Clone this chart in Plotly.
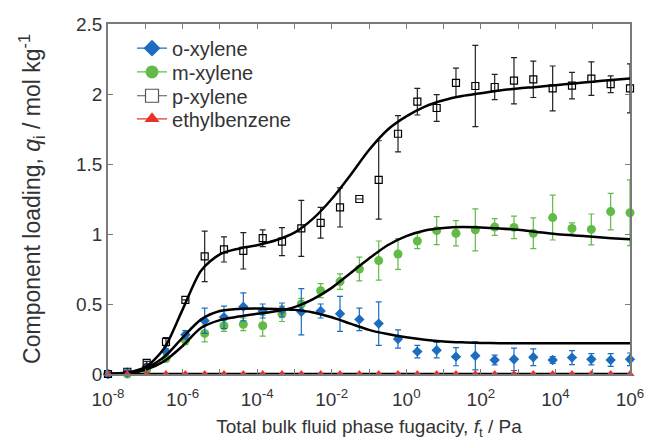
import plotly.graph_objects as go

# Total bulk fluid phase fugacity of each simulated point (Pa)
fugacity = [1.0e-8, 3.30e-8, 1.09e-7, 3.59e-7, 1.19e-6, 3.92e-6, 1.29e-5, 4.26e-5,
            1.41e-4, 4.64e-4, 1.53e-3, 5.05e-3, 1.67e-2, 5.51e-2, 0.182, 0.600,
            1.98, 6.53, 21.5, 71.1, 235, 774, 2550, 8430, 2.78e4, 9.18e4, 3.03e5, 1.0e6]

# Component loadings (mol/kg) with their error bar half-widths
o_xylene = [0.0, 0.01, 0.05, 0.16, 0.28, 0.38, 0.405, 0.48, 0.45, 0.457, 0.445, 0.45, 0.43, 0.39,
            0.36, 0.25, 0.16, 0.17, 0.124, 0.13, 0.10, 0.105, 0.12, 0.10, 0.117, 0.105, 0.10, 0.105]
o_xylene_err = [0, 0, 0.01, 0.02, 0.03, 0.09, 0.08, 0.10, 0.05, 0.05, 0.165, 0.05, 0.125, 0.08,
                0.155, 0.065, 0.045, 0.055, 0.065, 0.10, 0.035, 0.08, 0.06, 0.025, 0.05, 0.04, 0.045, 0.045]

m_xylene = [0.0, 0.0, 0.03, 0.11, 0.24, 0.29, 0.345, 0.355, 0.345, 0.43, 0.50, 0.595, 0.66, 0.75,
            0.81, 0.857, 0.95, 1.024, 1.005, 1.03, 1.05, 1.047, 1.005, 1.117, 1.04, 1.033, 1.16, 1.152]
m_xylene_err = [0, 0, 0.01, 0.02, 0.03, 0.06, 0.04, 0.045, 0.075, 0.055, 0.04, 0.05, 0.055, 0.085,
                0.14, 0.11, 0.055, 0.10, 0.09, 0.15, 0.06, 0.08, 0.11, 0.16, 0.04, 0.11, 0.13, 0.235]

p_xylene = [0.0, 0.016, 0.08, 0.23, 0.53, 0.84, 0.89, 0.88, 0.97, 0.945, 1.04, 1.08, 1.19, 1.25,
            1.386, 1.716, 1.945, 1.90, 2.08, 2.057, 2.05, 2.095, 2.105, 2.04, 2.06, 2.11, 2.07, 2.04]
p_xylene_err = [0, 0, 0.01, 0.03, 0.0, 0.18, 0.09, 0.13, 0.06, 0.10, 0.20, 0.11, 0.14, 0.0,
                0.28, 0.13, 0.095, 0.095, 0.105, 0.29, 0.09, 0.165, 0.13, 0.16, 0.095, 0.12, 0.06, 0.175]

ethylbenzene = [0.0] * 28
ethylbenzene_err = [0.0] * 28

# Fitted isotherm curves, sampled every half decade from 1e-8 to 1e6 Pa
fit_fugacity = [1e-8, 3.16e-8, 1e-7, 3.16e-7, 1e-6, 3.16e-6, 1e-5, 3.16e-5, 1e-4, 3.16e-4,
                1e-3, 3.16e-3, 1e-2, 3.16e-2, 0.1, 0.316, 1.0, 3.16, 10, 31.6, 100, 316,
                1e3, 3.16e3, 1e4, 3.16e4, 1e5, 3.16e5, 1e6]
o_fit = [0.0, 0.005, 0.04, 0.12, 0.26, 0.39, 0.45, 0.465, 0.467, 0.465, 0.458, 0.44, 0.405, 0.36,
         0.315, 0.285, 0.262, 0.245, 0.233, 0.226, 0.222, 0.22, 0.22, 0.22, 0.22, 0.22, 0.22, 0.22, 0.22]
m_fit = [0.0, 0.004, 0.03, 0.09, 0.20, 0.33, 0.385, 0.41, 0.43, 0.448, 0.478, 0.535, 0.615, 0.72,
         0.825, 0.92, 0.985, 1.025, 1.043, 1.05, 1.047, 1.04, 1.03, 1.015, 1.0, 0.99, 0.98, 0.97, 0.962]
p_fit = [0.0, 0.01, 0.05, 0.18, 0.46, 0.74, 0.855, 0.895, 0.92, 0.955, 1.01, 1.11, 1.25, 1.42,
         1.60, 1.745, 1.84, 1.91, 1.955, 1.985, 2.005, 2.025, 2.04, 2.05, 2.063, 2.075, 2.088, 2.10, 2.11]
e_fit = [0.0] * 29

# Axis ticks: labelled even decades, unlabelled odd decades
x_tick_vals = [1e-8, 1e-6, 1e-4, 1e-2, 1e0, 1e2, 1e4, 1e6]
x_tick_text = ["10<sup>-8</sup>", "10<sup>-6</sup>", "10<sup>-4</sup>", "10<sup>-2</sup>",
               "10<sup>0</sup>", "10<sup>2</sup>", "10<sup>4</sup>", "10<sup>6</sup>"]
x_minor_vals = [1e-7, 1e-5, 1e-3, 1e-1, 1e1, 1e3, 1e5]
y_tick_vals = [0, 0.5, 1, 1.5, 2, 2.5]
y_tick_text = ["0", "0.5", "1", "1.5", "2", "2.5"]

BLUE = "#1c6dbf"
GREEN = "#62bb46"
RED = "#e63329"
BLACK = "#000000"
AXIS = "#7a7a7a"
TEXT = "#333333"
FONT = "Liberation Sans, Arial, sans-serif"

fig = go.Figure()


def points(y, err, color, bar_color, symbol, size, fill, line_w):
    fig.add_trace(go.Scatter(
        x=fugacity, y=y, mode="markers", showlegend=False, cliponaxis=False,
        marker=dict(symbol=symbol, size=size, color=fill,
                    line=dict(color=color, width=line_w)),
        error_y=dict(type="data", array=err, visible=True, color=bar_color,
                     thickness=1.2, width=3),
    ))


points(m_xylene, m_xylene_err, GREEN, GREEN, "circle", 9, GREEN, 0)
points(o_xylene, o_xylene_err, BLUE, BLUE, "diamond", 8, BLUE, 0)
points(p_xylene, p_xylene_err, BLACK, "#222222", "square-open", 7, BLACK, 1.2)

for fit in (o_fit, m_fit, p_fit, e_fit):
    fig.add_trace(go.Scatter(
        x=fit_fugacity, y=fit, mode="lines", showlegend=False, cliponaxis=False,
        line=dict(color=BLACK, width=2.5, shape="spline", smoothing=0.8),
    ))

points(ethylbenzene, ethylbenzene_err, RED, RED, "triangle-up", 8, RED, 0)

# Legend entries, one small legend per row so the row spacing can be set
legend_items = [
    ("o-xylene", BLUE, "diamond", BLUE, 0),
    ("m-xylene", GREEN, "circle", GREEN, 0),
    ("p-xylene", "#555555", "square", "white", 1.2),
    ("ethylbenzene", RED, "triangle-up", RED, 0),
]
legend_rows = [0.931, 0.863, 0.795, 0.729]
legend_layout = {}
for i, ((name, color, symbol, fill, lw), row) in enumerate(zip(legend_items, legend_rows)):
    key = "legend" if i == 0 else f"legend{i + 1}"
    fig.add_trace(go.Scatter(
        x=[None], y=[None], mode="lines+markers", name=name, legend=key,
        line=dict(color=color, width=1.2),
        marker=dict(symbol=symbol, size=13, color=fill, line=dict(color=color, width=lw)),
    ))
    legend_layout[key] = dict(
        x=0.046, y=row, xanchor="left", yanchor="middle",
        bgcolor="rgba(0,0,0,0)", borderwidth=0,
        font=dict(family=FONT, size=20, color=TEXT), itemwidth=30,
    )

axis_common = dict(
    showline=True, linecolor=AXIS, linewidth=1.5, mirror="ticks",
    ticks="inside", ticklen=5, tickwidth=1.2, tickcolor=AXIS,
    showgrid=False, zeroline=False, automargin=False,
    tickfont=dict(family=FONT, size=19, color=TEXT),
)

fig.update_xaxes(
    type="log", range=[-8, 6], tickmode="array",
    tickvals=x_tick_vals, ticktext=x_tick_text, ticklabelstandoff=7,
    minor=dict(tickmode="array", tickvals=x_minor_vals, ticks="inside",
               ticklen=5, tickwidth=1.2, tickcolor=AXIS, showgrid=False),
    title=dict(text="Total bulk fluid phase fugacity, <i>f</i><sub>t</sub> / Pa",
               font=dict(family=FONT, size=19, color=TEXT), standoff=11),
    **axis_common,
)
fig.update_yaxes(
    range=[0, 2.5], tickmode="array", tickvals=y_tick_vals, ticktext=y_tick_text,
    title=dict(text="Component loading, <i>q</i><sub>i</sub> / mol kg<sup>-1</sup>",
               font=dict(family=FONT, size=23, color=TEXT), standoff=29),
    **axis_common,
)

fig.update_layout(
    width=649, height=440,
    margin=dict(l=108, r=19, t=24, b=66),
    paper_bgcolor="white", plot_bgcolor="white",
    font=dict(family=FONT, color=TEXT),
    **legend_layout,
)

fig.write_html("out.html")
